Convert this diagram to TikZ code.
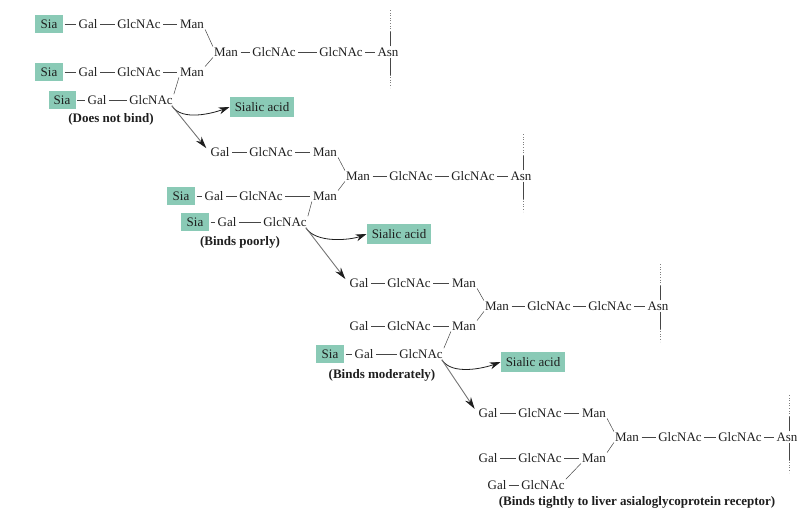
\documentclass[tikz,border=0pt]{standalone}
\usepackage{fontspec}
\setmainfont{Liberation Serif}
\usetikzlibrary{arrows.meta,calc}

\definecolor{ink}{RGB}{30,30,30}
\definecolor{siafill}{RGB}{138,202,182}
\definecolor{bondgray}{RGB}{70,70,70}

\tikzset{
  sugar/.style={font=\fontsize{13}{15}\selectfont, inner sep=1pt, text=ink},
  siabox/.style={sugar, fill=siafill, minimum width=28pt, minimum height=18pt, inner xsep=4pt},
  acidbox/.style={sugar, fill=siafill, minimum height=20pt, inner xsep=5pt},
  caption/.style={font=\fontsize{13}{15}\selectfont\bfseries, text=ink, inner sep=1pt},
  bond/.style={draw=bondgray, line width=0.6pt, shorten <=1.5pt, shorten >=1.5pt},
  branch/.style={draw=bondgray, line width=0.5pt},
  stalk/.style={draw=bondgray, line width=0.5pt},
  stalkdots/.style={draw=bondgray!70, line width=0.6pt, dotted},
  release/.style={draw=ink, line width=0.8pt, -{Stealth[length=11pt,width=7pt]}},
  trim/.style={draw=bondgray!75, line width=0.9pt, shorten >=5pt,
    -{Stealth[length=12pt,width=7pt,color=ink]}},
}

% protein stalk through an Asn node: solid near the residue, dotted further out
\newcommand\asnstalk[1]{%
  \draw[stalk] ($(#1.north)+(2,0)$) -- ++(0,-15) coordinate (#1-up);
  \draw[stalkdots] (#1-up) -- ++(0,-21);
  \draw[stalk] ($(#1.south)+(2,0)$) -- ++(0,17) coordinate (#1-dn);
  \draw[stalkdots] (#1-dn) -- ++(0,13);
}

\begin{document}
\begin{tikzpicture}[x=1pt,y=-1pt]
\useasboundingbox (0,0) rectangle (802,515);

% ---------- fully sialylated glycan ----------
\node[siabox] (a-s1) at (49,24) {Sia};
\node[sugar]  (a-g1) at (88,24) {Gal};
\node[sugar]  (a-n1) at (139,24) {GlcNAc};
\node[sugar]  (a-m1) at (192,24) {Man};
\node[sugar]  (a-cm) at (226,52) {Man};
\node[sugar]  (a-c1) at (274,52) {GlcNAc};
\node[sugar]  (a-c2) at (341,52) {GlcNAc};
\node[sugar]  (a-asn) at (388,52) {Asn};
\node[siabox] (a-s2) at (49,72) {Sia};
\node[sugar]  (a-g2) at (88,72) {Gal};
\node[sugar]  (a-n2) at (139,72) {GlcNAc};
\node[sugar]  (a-m2) at (192,72) {Man};
\node[siabox, minimum width=27pt] (a-s3) at (62,100) {Sia};
\node[sugar]  (a-g3) at (97,100) {Gal};
\node[sugar]  (a-n3) at (151,100) {GlcNAc};
\node[caption] (a-cap) at (111,119) {(Does not bind)};
\node[acidbox] (sa1) at (262,107) {Sialic acid};

\draw[bond] (a-s1) -- (a-g1);
\draw[bond] (a-g1) -- (a-n1);
\draw[bond] (a-n1) -- (a-m1);
\draw[bond] (a-cm) -- (a-c1);
\draw[bond] (a-c1) -- (a-c2);
\draw[bond] (a-c2) -- (a-asn);
\draw[bond] (a-s2) -- (a-g2);
\draw[bond] (a-g2) -- (a-n2);
\draw[bond] (a-n2) -- (a-m2);
\draw[bond] (a-s3) -- (a-g3);
\draw[bond] (a-g3) -- (a-n3);
\draw[branch] (a-m1.south east) -- (a-cm.north west);
\draw[branch] (a-m2.north east) -- (a-cm.south west);
\draw[branch] (a-n3.north east) -- (a-m2.south west);
\asnstalk{a-asn}

% ---------- one sialic acid removed ----------
\node[sugar]  (b-g1) at (220,152) {Gal};
\node[sugar]  (b-n1) at (271,152) {GlcNAc};
\node[sugar]  (b-m1) at (325,152) {Man};
\node[sugar]  (b-cm) at (358,176) {Man};
\node[sugar]  (b-c1) at (411,176) {GlcNAc};
\node[sugar]  (b-c2) at (473,176) {GlcNAc};
\node[sugar]  (b-asn) at (521,176) {Asn};
\node[siabox] (b-s2) at (181,196) {Sia};
\node[sugar]  (b-g2) at (214,196) {Gal};
\node[sugar]  (b-n2) at (261,196) {GlcNAc};
\node[sugar]  (b-m2) at (325,196) {Man};
\node[siabox] (b-s3) at (195,222) {Sia};
\node[sugar]  (b-g3) at (227,222) {Gal};
\node[sugar]  (b-n3) at (285,222) {GlcNAc};
\node[caption] (b-cap) at (240,242) {(Binds poorly)};
\node[acidbox] (sa2) at (399,234) {Sialic acid};

\draw[bond] (b-g1) -- (b-n1);
\draw[bond] (b-n1) -- (b-m1);
\draw[bond] (b-cm) -- (b-c1);
\draw[bond] (b-c1) -- (b-c2);
\draw[bond] (b-c2) -- (b-asn);
\draw[bond] (b-s2) -- (b-g2);
\draw[bond] (b-g2) -- (b-n2);
\draw[bond] (b-n2) -- (b-m2);
\draw[bond] (b-s3) -- (b-g3);
\draw[bond] (b-g3) -- (b-n3);
\draw[branch] (b-m1.south east) -- (b-cm.north west);
\draw[branch] (b-m2.north east) -- (b-cm.south west);
\draw[branch] (b-n3.north east) -- (b-m2.south west);
\asnstalk{b-asn}

% ---------- two sialic acids removed ----------
\node[sugar]  (c-g1) at (359,283) {Gal};
\node[sugar]  (c-n1) at (409,283) {GlcNAc};
\node[sugar]  (c-m1) at (464,283) {Man};
\node[sugar]  (c-cm) at (497,306) {Man};
\node[sugar]  (c-c1) at (549,306) {GlcNAc};
\node[sugar]  (c-c2) at (610,306) {GlcNAc};
\node[sugar]  (c-asn) at (658,306) {Asn};
\node[sugar]  (c-g2) at (359,326) {Gal};
\node[sugar]  (c-n2) at (409,326) {GlcNAc};
\node[sugar]  (c-m2) at (464,326) {Man};
\node[siabox] (c-s3) at (330,354) {Sia};
\node[sugar]  (c-g3) at (364,354) {Gal};
\node[sugar]  (c-n3) at (421,354) {GlcNAc};
\node[caption] (c-cap) at (382,375) {(Binds moderately)};
\node[acidbox] (sa3) at (533,362) {Sialic acid};

\draw[bond] (c-g1) -- (c-n1);
\draw[bond] (c-n1) -- (c-m1);
\draw[bond] (c-cm) -- (c-c1);
\draw[bond] (c-c1) -- (c-c2);
\draw[bond] (c-c2) -- (c-asn);
\draw[bond] (c-g2) -- (c-n2);
\draw[bond] (c-n2) -- (c-m2);
\draw[bond] (c-s3) -- (c-g3);
\draw[bond] (c-g3) -- (c-n3);
\draw[branch] (c-m1.south east) -- (c-cm.north west);
\draw[branch] (c-m2.north east) -- (c-cm.south west);
\draw[branch] (c-n3.north east) -- (c-m2.south west);
\asnstalk{c-asn}

% ---------- fully desialylated glycan ----------
\node[sugar]  (d-g1) at (488,413) {Gal};
\node[sugar]  (d-n1) at (540,413) {GlcNAc};
\node[sugar]  (d-m1) at (594,413) {Man};
\node[sugar]  (d-cm) at (627,437) {Man};
\node[sugar]  (d-c1) at (680,437) {GlcNAc};
\node[sugar]  (d-c2) at (740,437) {GlcNAc};
\node[sugar]  (d-asn) at (787,437) {Asn};
\node[sugar]  (d-g2) at (488,458) {Gal};
\node[sugar]  (d-n2) at (540,458) {GlcNAc};
\node[sugar]  (d-m2) at (594,458) {Man};
\node[sugar]  (d-g3) at (497,485) {Gal};
\node[sugar]  (d-n3) at (543,485) {GlcNAc};
\node[caption] (d-cap) at (637,502) {(Binds tightly to liver asialoglycoprotein receptor)};

\draw[bond] (d-g1) -- (d-n1);
\draw[bond] (d-n1) -- (d-m1);
\draw[bond] (d-cm) -- (d-c1);
\draw[bond] (d-c1) -- (d-c2);
\draw[bond] (d-c2) -- (d-asn);
\draw[bond] (d-g2) -- (d-n2);
\draw[bond] (d-n2) -- (d-m2);
\draw[bond, shorten <=1pt, shorten >=1pt] (d-g3) -- (d-n3);
\draw[branch] (d-m1.south east) -- (d-cm.north west);
\draw[branch] (d-m2.north east) -- (d-cm.south west);
\draw[branch] (d-n3.north east) -- (d-m2.south west);
\asnstalk{d-asn}

% ---------- sialidase steps ----------
\coordinate (a-cut) at ($(a-n3.south east)+(-2,0)$);
\coordinate (b-cut) at ($(b-n3.south east)+(-2,0)$);
\coordinate (c-cut) at ($(c-n3.south east)+(-2,0)$);

\draw[release] (a-cut) .. controls +(10,16) and +(-16,6) .. (sa1.west);
\draw[trim] (a-cut) -- (b-g1.west);
\draw[release] (b-cut) .. controls +(10,16) and +(-16,6) .. (sa2.west);
\draw[trim] (b-cut) -- (c-g1.west);
\draw[release] (c-cut) .. controls +(10,16) and +(-16,6) .. (sa3.west);
\draw[trim] (c-cut) -- (d-g1.west);
\end{tikzpicture}
\end{document}
